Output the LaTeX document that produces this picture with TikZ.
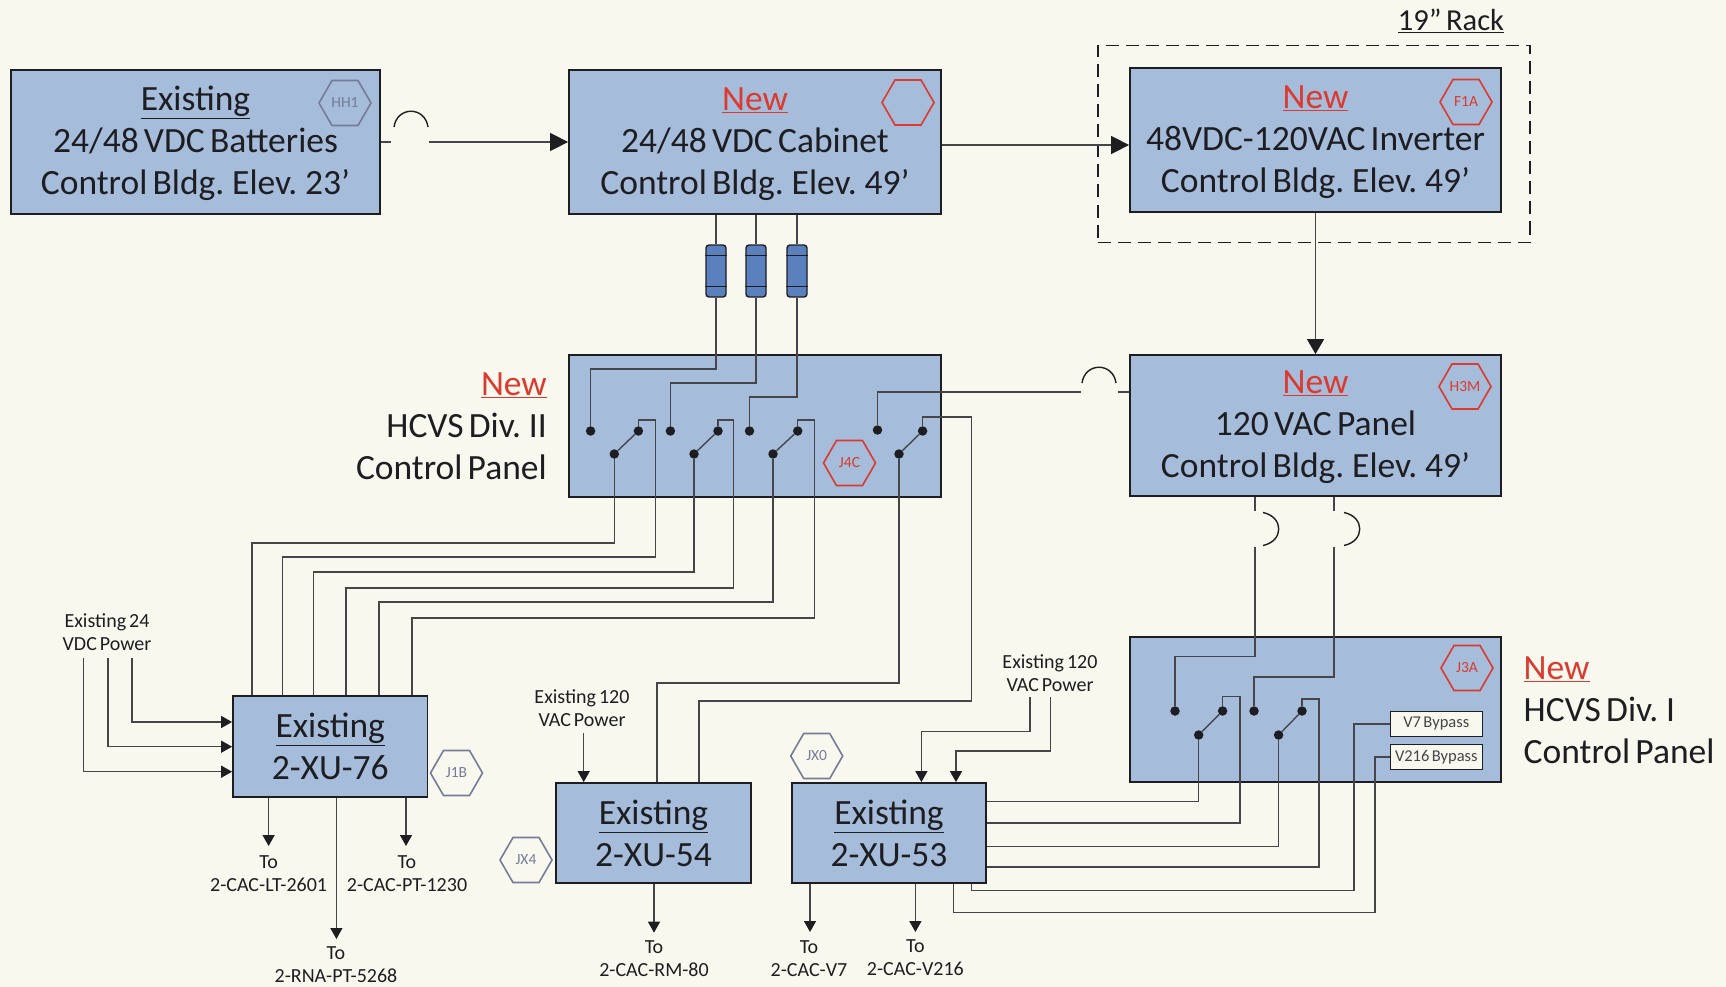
\documentclass[tikz,border=0pt]{standalone}
\usepackage{fontspec}
\setmainfont[WordSpace=0.65]{Carlito}
\usetikzlibrary{shapes.geometric,arrows.meta}
\definecolor{paper}{HTML}{F8F8EF}
\definecolor{boxfill}{HTML}{A5BCDA}
\definecolor{newred}{HTML}{DC3A2E}
\definecolor{hexgrey}{HTML}{747C98}
\definecolor{fusefill}{HTML}{5A80BE}
\definecolor{ink}{HTML}{1E1E22}
\definecolor{wirec}{HTML}{45454A}
\newcommand{\NewLbl}{\textcolor{newred}{\underline{New}}}
\newcommand{\ExLbl}{\rule{0pt}{27pt}\underline{Existing}}
\newcommand{\ExSm}{\rule{0pt}{25pt}\underline{Existing}}
\tikzset{
 box/.style={draw=ink,fill=boxfill,line width=1.8pt,inner sep=0pt,align=center,text=ink,font=\fontsize{35.5}{42}\selectfont},
 hexbase/.style={regular polygon,regular polygon sides=6,minimum size=52pt,inner sep=0pt,line width=1.6pt,font=\fontsize{15.5}{18}\selectfont},
 hexred/.style={hexbase,draw=newred,text=newred},
 hexgr/.style={hexbase,draw=hexgrey,text=hexgrey},
 wire/.style={draw=wirec,line width=1.4pt},
 bigarrow/.style={wire,-{Triangle[length=18pt,width=18pt,color=ink]}},
 midarrow/.style={wire,-{Triangle[length=15pt,width=17pt,color=ink]}},
 smallarrow/.style={wire,-{Triangle[length=11pt,width=12pt,color=ink]}},
 contact/.style={circle,fill=ink,minimum size=9.5pt,inner sep=0pt},
 fuse/.style={draw=ink,fill=fusefill,rounded corners=3pt,line width=1.4pt,minimum width=20pt,minimum height=52pt,inner sep=0pt},
 band/.style={draw=ink,line width=1.6pt},
 small/.style={align=center,text=ink,inner sep=0pt,font=\fontsize{20}{23}\selectfont},
 large/.style={text=ink,inner sep=0pt,font=\fontsize{35.5}{42}\selectfont},
 bypass/.style={draw=ink,fill=paper,line width=1.5pt,minimum width=92pt,minimum height=25pt,inner sep=0pt,text=wirec,font=\fontsize{16.5}{18}\selectfont},
 rack/.style={draw=ink,dash pattern=on 13pt off 7pt,line width=1.8pt,minimum width=432pt,minimum height=197pt,inner sep=0pt},
 jump/.style={draw=ink,line width=1.4pt},
}
\begin{document}
\begin{tikzpicture}[x=1pt,y=-1pt]
\useasboundingbox[fill=paper] (0,0) rectangle (1726,987);
% rack
\node[rack] (rk) at (1314,144) {};
\node[large,font=\fontsize{30.5}{34}\selectfont] (rklbl) at (1451,21) {\underline{19” Rack}};
% boxes
\node[box,minimum width=369pt,minimum height=144pt] (bat) at (195.5,142) {\ExLbl\\24/48 VDC Batteries\\Control Bldg. Elev. 23’};
\node[box,minimum width=372pt,minimum height=144pt] (cab) at (755,142) {\rule{0pt}{27pt}\NewLbl\\24/48 VDC Cabinet\\Control Bldg. Elev. 49’};
\node[box,minimum width=371pt,minimum height=144pt] (inv) at (1315.5,140) {\rule{0pt}{27pt}\NewLbl\\48VDC-120VAC Inverter\\Control Bldg. Elev. 49’};
\node[box,minimum width=372pt,minimum height=142pt] (pii) at (755,426) {};
\node[box,minimum width=371pt,minimum height=141pt] (vac) at (1315.5,425.5) {\rule{0pt}{27pt}\NewLbl\\120 VAC Panel\\Control Bldg. Elev. 49’};
\node[box,minimum width=371pt,minimum height=145pt] (pi) at (1315.5,709.5) {};
\node[box,minimum width=194.5pt,minimum height=101pt] (xua) at (330.25,746.5) {\ExSm\\2-XU-76};
\node[box,minimum width=195pt,minimum height=100pt] (xub) at (653.5,833) {\ExSm\\2-XU-54};
\node[box,minimum width=194pt,minimum height=100pt] (xuc) at (889,833) {\ExSm\\2-XU-53};
% side labels
\node[large,anchor=east,align=right] (lblii) at (547,426) {\NewLbl\\HCVS Div. II\\Control Panel};
\node[large,anchor=west,align=left] (lbli) at (1523.5,710) {\NewLbl\\HCVS Div. I\\Control Panel};
% fuses
\node[fuse] (f1) at (716,271) {};
\node[fuse] (f2) at (756,271) {};
\node[fuse] (f3) at (797,271) {};
\foreach \f in {f1,f2,f3}{
 \draw[band] ([yshift=15.5pt]\f.west) -- ([yshift=15.5pt]\f.east);
 \draw[band] ([yshift=-15.5pt]\f.west) -- ([yshift=-15.5pt]\f.east);
}
% contacts
\node[contact] (s1a) at (590.6,431) {};
\node[contact] (s1b) at (638.4,431) {};
\node[contact] (s1c) at (614.3,454) {};
\node[contact] (s2a) at (670.4,431) {};
\node[contact] (s2b) at (718,431) {};
\node[contact] (s2c) at (694,454) {};
\node[contact] (s3a) at (749.5,431) {};
\node[contact] (s3b) at (797.7,431) {};
\node[contact] (s3c) at (773,454) {};
\node[contact] (s4a) at (877.5,430) {};
\node[contact] (s4b) at (922.6,431) {};
\node[contact] (s4c) at (899,454) {};
\node[contact] (s5a) at (1175,711) {};
\node[contact] (s5b) at (1222.6,711) {};
\node[contact] (s5c) at (1198.7,735) {};
\node[contact] (s6a) at (1254,711) {};
\node[contact] (s6b) at (1302,711) {};
\node[contact] (s6c) at (1278.6,735) {};
\foreach \s in {s1,s2,s3,s4,s5,s6}{\draw[wire] (\s c) -- (\s b);}
% bypass
\node[bypass] (vs) at (1436.3,724) {V7 Bypass};
\node[bypass] (vt) at (1436.3,757) {V216 Bypass};
% hexagons
\node[hexgr] (hh) at (345,103) {HH1};
\node[hexred] (hc) at (908,102.5) {};
\node[hexred] (fa) at (1466,102) {F1A};
\node[hexred] (hm) at (1465,386.5) {H3M};
\node[hexred] (jc) at (849.5,463) {J4C};
\node[hexred] (ja) at (1467,668) {J3A};
\node[hexgr] (jb) at (456.5,773) {J1B};
\node[hexgr] (jf) at (526,860) {JX4};
\node[hexgr] (jo) at (816.7,756) {JX0};
% top connectors
\coordinate (ja1) at (391,142);
\coordinate (ja2) at (429,142);
\draw[wire] (bat.east) -- (ja1);
\draw[bigarrow] (ja2) -- (cab.west);
\draw[jump] (394,127) .. controls (397,106) and (425,106) .. (428,127);
\draw[bigarrow] (cab.east |- 0,145) -- (inv.west |- 0,145);
\draw[midarrow] (inv.south) -- (vac.north);
% fuses wiring
\draw[wire] (716,0 |- cab.south) -- (f1.north);
\draw[wire] (756,0 |- cab.south) -- (f2.north);
\draw[wire] (797,0 |- cab.south) -- (f3.north);
\draw[wire] (f1.south) -- (716,369) -| (s1a);
\draw[wire] (f2.south) -- (756,383) -| (s2a);
\draw[wire] (f3.south) -- (797,397) -| (s3a);
% s4 feed
\coordinate (jb1) at (1081,392);
\coordinate (jb2) at (1118,392);
\draw[wire] (s4a) |- (jb1);
\draw[wire] (jb2) -- (vac.west |- jb2);
\draw[jump] (1082,383) .. controls (1085,362) and (1113,362) .. (1116,383);
% div II to xu
\draw[wire] (s1c) -- (614.3,543) -- (252,543) -- (252,0 |- xua.north);
\draw[wire] (s1b) -- (638.4,420) -- (655.4,420) -- (655.4,557) -- (282.4,557) -- (282.4,0 |- xua.north);
\draw[wire] (s2c) -- (694,572) -- (313.7,572) -- (313.7,0 |- xua.north);
\draw[wire] (s2b) -- (718,420) -- (733.7,420) -- (733.7,588) -- (345.8,588) -- (345.8,0 |- xua.north);
\draw[wire] (s3c) -- (773,602) -- (379,602) -- (379,0 |- xua.north);
\draw[wire] (s3b) -- (797.7,420) -- (814.7,420) -- (814.7,618) -- (412,618) -- (412,0 |- xua.north);
\draw[wire] (s4c) -- (899,683) -- (657,683) -- (657,0 |- xub.north);
\draw[wire] (s4b) -- (922.6,417) -- (971.6,417) -- (971.6,701) -- (699,701) -- (699,0 |- xub.north);
% vac to J3A
\coordinate (jc1) at (1255,511);
\coordinate (jc2) at (1255,547);
\coordinate (jd1) at (1334,511);
\coordinate (jd2) at (1334,547);
\draw[wire] (1255,0 |- vac.south) -- (jc1);
\draw[wire] (1334,0 |- vac.south) -- (jd1);
\draw[wire] (jc2) -- (1255,656.7) -| (s5a);
\draw[wire] (jd2) -- (1334,677) -| (s6a);
\draw[jump] (1263,512.5) .. controls (1284,517) and (1284,541) .. (1263,545.5);
\draw[jump] (1344,512.5) .. controls (1365,517) and (1365,541) .. (1344,545.5);
% J3A to xu53
\draw[wire] (s5c) -- (1198.7,801.7) -- (xuc.east |- 0,801.7);
\draw[wire] (s5b) -- (1222.6,696.7) -- (1240,696.7) -- (1240,823) -- (xuc.east |- 0,823);
\draw[wire] (s6c) -- (1278.6,846.7) -- (xuc.east |- 0,846.7);
\draw[wire] (s6b) -- (1302,699) -- (1319,699) -- (1319,867) -- (xuc.east |- 0,867);
\draw[wire] (vs.west) -- (1354,724) -- (1354,890.7) -- (971.5,890.7) -- (971.5,0 |- xuc.south);
\draw[wire] (vt.west) -- (1375,757) -- (1375,912.7) -- (953.5,912.7) -- (953.5,0 |- xuc.south);
% existing power labels
\node[small] (pa) at (107,632) {Existing 24\\VDC Power};
\node[small] (pb) at (582,708.5) {Existing 120\\VAC Power};
\node[small] (pc) at (1050,673) {Existing 120\\VAC Power};
\draw[smallarrow] (83.7,658) -- (83.7,771.7) -- (xua.west |- 0,771.7);
\draw[smallarrow] (108,658) -- (108,746.7) -- (xua.west |- 0,746.7);
\draw[smallarrow] (132,658) -- (132,722) -- (xua.west |- 0,722);
\draw[smallarrow] (583.7,733) -- (583.7,0 |- xub.north);
\draw[smallarrow] (1030,697) -- (1030,731.7) -- (921.4,731.7) -- (921.4,0 |- xuc.north);
\draw[smallarrow] (1050.4,697) -- (1050.4,751) -- (956,751) -- (956,0 |- xuc.north);
% outputs
\node[small] (ta) at (268.6,873.5) {To\\2-CAC-LT-2601};
\node[small] (tb) at (407,873.5) {To\\2-CAC-PT-1230};
\node[small] (tc) at (336,964.5) {To\\2-RNA-PT-5268};
\node[small] (td) at (654,958.5) {To\\2-CAC-RM-80};
\node[small] (te) at (809,958.5) {To\\2-CAC-V7};
\node[small] (tf) at (915.4,958) {To\\2-CAC-V216};
\draw[smallarrow] (268.6,0 |- xua.south) -- (268.6,846);
\draw[smallarrow] (406,0 |- xua.south) -- (406,846);
\draw[smallarrow] (336.4,0 |- xua.south) -- (336.4,939);
\draw[smallarrow] (654,0 |- xub.south) -- (654,932.7);
\draw[smallarrow] (810,0 |- xuc.south) -- (810,932);
\draw[smallarrow] (915.4,0 |- xuc.south) -- (915.4,932);
\end{tikzpicture}
\end{document}
